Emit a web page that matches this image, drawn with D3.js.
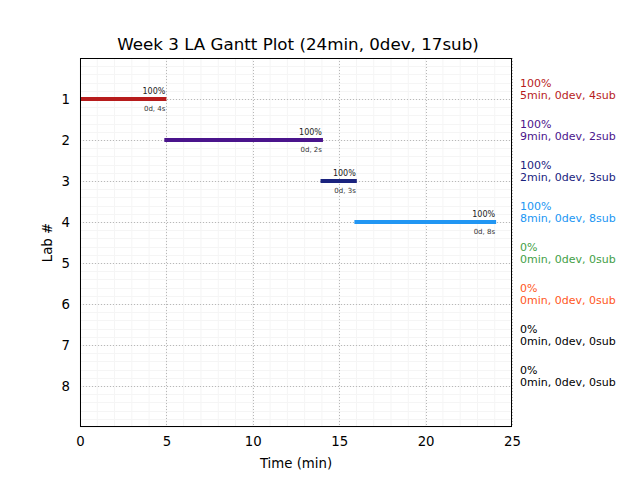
<!DOCTYPE html>
<html><head><meta charset="utf-8">
<script src="https://cdn.jsdelivr.net/npm/d3@7"></script>
<style>body{margin:0;background:#fff}svg{display:block;font-family:"DejaVu Sans",sans-serif}</style>
</head><body><svg id="c" width="640" height="480"></svg>
<script>
const labs = [1,2,3,4,5,6,7,8];
const starts = [0, 4.88, 13.92, 15.88];
const ends = [5.0, 14.06, 16.02, 24.08];
const barPct = ["100%","100%","100%","100%"];
const barSub = ["0d, 4s","0d, 2s","0d, 3s","0d, 8s"];
const sidePct = ["100%","100%","100%","100%","0%","0%","0%","0%"];
const sideInfo = ["5min, 0dev, 4sub","9min, 0dev, 2sub","2min, 0dev, 3sub","8min, 0dev, 8sub","0min, 0dev, 0sub","0min, 0dev, 0sub","0min, 0dev, 0sub","0min, 0dev, 0sub"];
const colors = ["#b71c1c","#4a148c","#1a237e","#2196f3","#43a047","#ff5722","#000000","#000000"];
const xTicks = [0,5,10,15,20,25];
const title = "Week 3 LA Gantt Plot (24min, 0dev, 17sub)";

const svg = d3.select("#c");
const L=80,R=512,T=58,B=427;
const x = d3.scaleLinear().domain([0,25]).range([L,R]);
const y = d3.scaleLinear().domain([0,9]).range([T,B]);

// minor grid
const g = svg.append("g");
g.selectAll(".mx").data(d3.range(0,26,1)).enter().append("line")
 .attr("x1",d=>x(d)).attr("x2",d=>x(d)).attr("y1",T).attr("y2",B)
 .attr("stroke","#f5f5f5").attr("stroke-width",1);
g.selectAll(".my").data(d3.range(0,9.01,0.2)).enter().append("line")
 .attr("y1",d=>Math.round(y(d))+0.5).attr("y2",d=>Math.round(y(d))+0.5).attr("x1",L).attr("x2",R)
 .attr("stroke","#f5f5f5").attr("stroke-width",1);
// major grid
g.selectAll(".Mx").data(xTicks).enter().append("line")
 .attr("x1",d=>Math.round(x(d))+0.5).attr("x2",d=>Math.round(x(d))+0.5).attr("y1",T).attr("y2",B)
 .attr("stroke","#b8b8b8").attr("stroke-width",1).attr("stroke-dasharray","1,2");
g.selectAll(".My").data(labs).enter().append("line")
 .attr("y1",d=>Math.round(y(d))+0.5).attr("y2",d=>Math.round(y(d))+0.5).attr("x1",L).attr("x2",R)
 .attr("stroke","#b8b8b8").attr("stroke-width",1).attr("stroke-dasharray","1,2");

// bars
starts.forEach((s,i)=>{
  const yy = y(labs[i]);
  svg.append("line").attr("x1",x(s)).attr("x2",x(ends[i])).attr("y1",yy).attr("y2",yy)
    .attr("stroke",colors[i]).attr("stroke-width",4);
  svg.append("text").attr("x",x(ends[i])-1).attr("y",yy-5).attr("text-anchor","end")
    .attr("font-size",8).attr("fill","#222").text(barPct[i]);
  svg.append("text").attr("x",x(ends[i])-1).attr("y",yy+12).attr("text-anchor","end")
    .attr("font-size",7).attr("fill","#333").text(barSub[i]);
});

// frame
svg.append("rect").attr("x",L+0.5).attr("y",T+0.5).attr("width",R-L-1).attr("height",B-T-1)
 .attr("fill","none").attr("stroke","#000").attr("stroke-width",1);

// axes tick labels
const xa = d3.axisBottom(x).tickValues(xTicks).tickSize(0).tickPadding(10).tickFormat(d3.format("d"));
const xg = svg.append("g").attr("transform",`translate(0,${B})`).call(xa);
xg.select(".domain").remove();
xg.selectAll("text").attr("font-size",13.3).attr("fill","#000").attr("font-family","DejaVu Sans");
const ya = d3.axisLeft(y).tickValues(labs).tickSize(0).tickPadding(10).tickFormat(d3.format("d"));
const yg = svg.append("g").attr("transform",`translate(${L},0)`).call(ya);
yg.select(".domain").remove();
yg.selectAll("text").attr("font-size",13.3).attr("fill","#000").attr("font-family","DejaVu Sans");

// labels
svg.append("text").attr("x",(L+R)/2).attr("y",468).attr("text-anchor","middle").attr("font-size",13.3).text("Time (min)");
svg.append("text").attr("transform",`translate(52,${(T+B)/2}) rotate(-90)`).attr("text-anchor","middle").attr("font-size",13.3).text("Lab #");
svg.append("text").attr("x",(L+R)/2+2).attr("y",50).attr("text-anchor","middle").attr("font-size",16.7).text(title);

// side labels
labs.forEach((l,i)=>{
  const yy=y(l);
  svg.append("text").attr("x",520).attr("y",yy-12).attr("font-size",11).attr("fill",colors[i]).text(sidePct[i]);
  svg.append("text").attr("x",520).attr("y",yy).attr("font-size",11).attr("fill",colors[i]).text(sideInfo[i]);
});
</script></body></html>
